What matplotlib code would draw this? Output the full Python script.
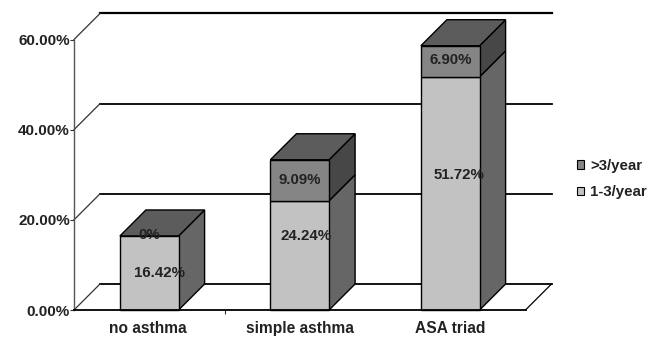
import matplotlib
matplotlib.use('Agg')
import matplotlib.pyplot as plt
from matplotlib.patches import Polygon, Patch

plt.rcParams['font.family'] = ['Liberation Sans', 'DejaVu Sans']

categories = ['no asthma', 'simple asthma', 'ASA triad']
low_freq = [16.42, 24.24, 51.72]
high_freq = [0, 9.09, 6.90]
low_labels = ['16.42%', '24.24%', '51.72%']
high_labels = ['0%', '9.09%', '6.90%']
yticks = [0, 20, 40, 60]
ytick_labels = ['0.00%', '20.00%', '40.00%', '60.00%']
series_names = ['>3/year', '1-3/year']

W, H = 664, 338
fig = plt.figure(figsize=(W / 100, H / 100), dpi=100)
# axes box = front plane of the fake 3d chart
ax = fig.add_axes([74 / W, (H - 310) / H, 451.5 / W, 270.5 / H])
ax.set_xlim(-0.5, 2.5)
ax.set_ylim(0, 60)
ax.patch.set_alpha(0)

# depth of the 3d look in data units (26 px each way)
dx = 26 / 150.5
dy = 26 / 4.508
bw = 0.39

LIGHT = '#c2c2c2'
MID = '#858585'
TOP = '#5c5c5c'
SIDE = '#666666'
SIDE_DARK = '#474747'

# back wall lines and left wall diagonals
for t in yticks:
    lw = 1.6 if t == 60 else 1.3
    ax.plot([-0.5 + dx, 2.5 + dx], [t + dy, t + dy], color='black', lw=lw, clip_on=False, zorder=1)
    ax.plot([-0.5, -0.5 + dx], [t, t + dy], color='#333333', lw=0.9, clip_on=False, zorder=1)
ax.plot([2.5, 2.5 + dx], [0, dy], color='black', lw=0.9, clip_on=False, zorder=1)


def box(x, y0, y1, front, side, top=None):
    l, r = x - bw / 2, x + bw / 2
    ax.add_patch(Polygon([(r, y0), (r + dx, y0 + dy), (r + dx, y1 + dy), (r, y1)],
                         fc=side, ec='black', lw=1, clip_on=False, zorder=3))
    if top:
        ax.add_patch(Polygon([(l, y1), (l + dx, y1 + dy), (r + dx, y1 + dy), (r, y1)],
                             fc=top, ec='black', lw=1, clip_on=False, zorder=3))
    ax.add_patch(Polygon([(l, y0), (r, y0), (r, y1), (l, y1)],
                         fc=front, ec='black', lw=1, clip_on=False, zorder=4))


for i in range(3):
    a, b = low_freq[i], high_freq[i]
    box(i, 0, a, LIGHT, SIDE, TOP if b == 0 else None)
    if b > 0:
        box(i, a, a + b, MID, SIDE_DARK, TOP)

# floor line goes over the bar bottoms
ax.plot([-0.5, 2.5], [0, 0], color='black', lw=1.3, clip_on=False, zorder=5)
ax.plot([-0.5, -0.5], [0, 60], color='#555555', lw=1, clip_on=False, zorder=2)

# data labels, hand placed like in the original
low_off = [(0.07, 0.0), (0.04, 4.4), (0.06, 4.0)]
high_off = [(0.0, 16.6), (0.0, 0.0), (0.0, 0.2)]
for i in range(3):
    a, b = low_freq[i], high_freq[i]
    ax.text(i + low_off[i][0], a / 2 + low_off[i][1], low_labels[i], ha='center', va='center',
            fontsize=10.8, fontweight='bold', color='#222222', zorder=6)
    if b > 0:
        ax.text(i + high_off[i][0], a + b / 2 + high_off[i][1], high_labels[i], ha='center', va='center',
                fontsize=10.8, fontweight='bold', color='#222222', zorder=6)
    else:
        ax.text(i + high_off[i][0], high_off[i][1], high_labels[i], ha='center', va='center',
                fontsize=10.8, fontweight='bold', color='#222222', zorder=6)

ax.set_xticks([0.5], labels=[''])
ax.tick_params(axis='x', length=3, width=0.8, color='#333333', pad=0)
ax.set_yticks(yticks, labels=ytick_labels, fontsize=11, fontweight='bold', color='#222222')
ax.tick_params(axis='y', length=3, width=0.8, color='#333333', pad=0)
for i, name in enumerate(categories):
    ax.text(i - 0.01 if i == 0 else i, -4.0, name, ha='center', va='center',
            fontsize=11.2, fontweight='bold', color='#222222')

for s in ax.spines.values():
    s.set_visible(False)

handles = [Patch(fc=MID, ec='black', lw=0.8), Patch(fc=LIGHT, ec='black', lw=0.8)]
fig.legend(handles, series_names, loc='center left', bbox_to_anchor=(569 / W, (H - 179) / H),
           frameon=False, handlelength=0.5, handleheight=0.5, handletextpad=0.4,
           labelspacing=0.85, borderpad=0, labelcolor='#222222',
           prop={'weight': 'bold', 'size': 10.8})

fig.savefig('out.png', dpi=100)
